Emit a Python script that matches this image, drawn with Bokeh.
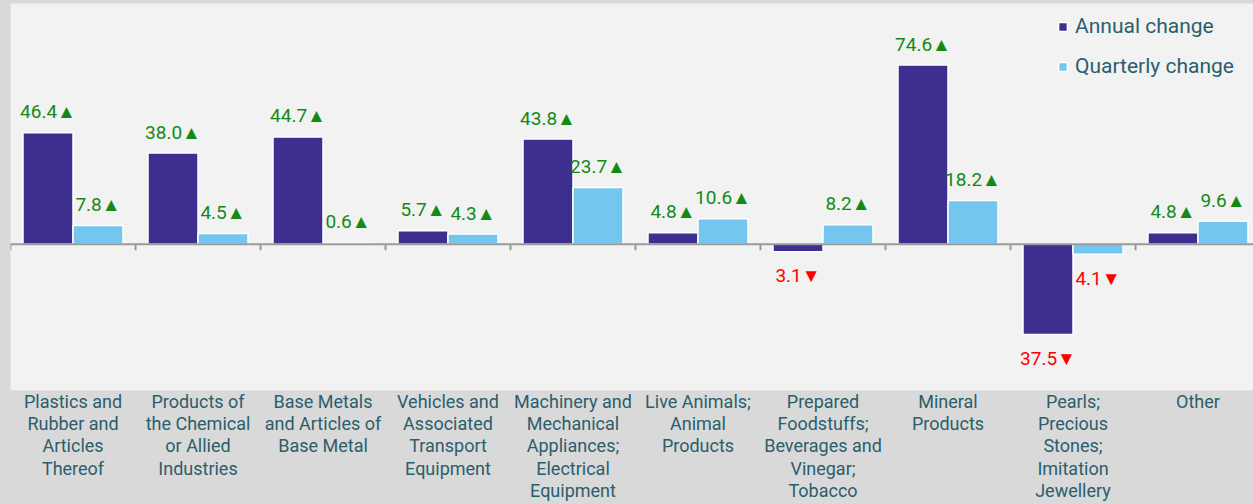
from bokeh.plotting import figure
from bokeh.models import (ColumnDataSource, Range1d, LinearAxis, FixedTicker,
                          Legend, LegendItem, Span)
from bokeh.core.properties import value
from bokeh.embed import file_html
from bokeh.resources import INLINE

categories = [
    "Plastics and\nRubber and\nArticles\nThereof",
    "Products of\nthe Chemical\nor Allied\nIndustries",
    "Base Metals\nand Articles of\nBase Metal",
    "Vehicles and\nAssociated\nTransport\nEquipment",
    "Machinery and\nMechanical\nAppliances;\nElectrical\nEquipment",
    "Live Animals;\nAnimal\nProducts",
    "Prepared\nFoodstuffs;\nBeverages and\nVinegar;\nTobacco",
    "Mineral\nProducts",
    "Pearls;\nPrecious\nStones;\nImitation\nJewellery",
    "Other",
]
annual = [46.4, 38.0, 44.7, 5.7, 43.8, 4.8, -3.1, 74.6, -37.5, 4.8]
quarterly = [7.8, 4.5, 0.6, 4.3, 23.7, 10.6, 8.2, 18.2, -4.1, 9.6]

ANNUAL_COLOR = "#3c2f8f"
QUARTER_COLOR = "#75c6ef"
TEXT_COLOR = "#2b5e6c"
FONT = "Roboto"

n = len(categories)
idx = list(range(n))
centers = [i + 0.5 for i in idx]

Y_MIN, Y_MAX = -60.8, 100.2
FRAME_H = 388
FRAME_W = 1243
CAT_PX = 125                      # the original plot area runs slightly past the right edge
X_MAX = FRAME_W / CAT_PX
TICK_LEN = 6 * (Y_MAX - Y_MIN) / FRAME_H   # 6 px expressed in data units

def label_fields(vals):
    txt, col, off = [], [], []
    for v in vals:
        if v >= 0:
            txt.append(f"{abs(v):.1f}\u25b2"); col.append("#138a13"); off.append(-21)
        else:
            txt.append(f"{abs(v):.1f}\u25bc"); col.append("#ff0000"); off.append(24)
    return txt, col, off

a_txt, a_col, a_off = label_fields(annual)
q_txt, q_col, q_off = label_fields(quarterly)

src = ColumnDataSource(dict(xa=[c - 0.2 for c in centers], xq=[c + 0.2 for c in centers],
                            annual=annual, quarterly=quarterly,
                            a_txt=a_txt, a_col=a_col, a_off=a_off,
                            q_txt=q_txt, q_col=q_col, q_off=q_off))

p = figure(x_range=Range1d(0, X_MAX), y_range=Range1d(Y_MIN, Y_MAX),
           width=1253, height=504, output_backend="svg", toolbar_location=None,
           min_border_left=10, min_border_right=0, min_border_top=3, min_border_bottom=113,
           x_axis_location=None, y_axis_location=None)
p.background_fill_color = "#f2f2f2"
p.border_fill_color = "#d9d9d9"
p.outline_line_color = None
p.grid.visible = False

ra = p.vbar(x="xa", top="annual", width=0.4, source=src,
            fill_color=ANNUAL_COLOR, line_color="white", line_width=1.5)
rq = p.vbar(x="xq", top="quarterly", width=0.4, source=src,
            fill_color=QUARTER_COLOR, line_color="white", line_width=1.5)

# zero line with category-boundary ticks
p.add_layout(Span(location=0, dimension="width", line_color="#9a9a9a", line_width=2))
bounds = idx + [n]
p.segment(x0=bounds, x1=bounds, y0=[0] * len(bounds), y1=[-TICK_LEN] * len(bounds),
          line_color="#9a9a9a", line_width=2)

p.text(x="xa", y="annual", text="a_txt", text_color="a_col",
       y_offset="a_off", source=src, text_align="center", text_baseline="middle",
       text_font_size="19px", text_font=value(FONT))
p.text(x="xq", y="quarterly", text="q_txt", text_color="q_col",
       y_offset="q_off", source=src, text_align="center", text_baseline="middle",
       text_font_size="19px", text_font=value(FONT))

label_axis = LinearAxis(ticker=FixedTicker(ticks=centers),
                        major_label_overrides={c: lab for c, lab in zip(centers, categories)},
                        axis_line_color=None, major_tick_line_color=None,
                        minor_tick_line_color=None,
                        major_tick_in=0, major_tick_out=0,
                        major_label_text_font=FONT, major_label_text_font_size="18px",
                        major_label_text_color=TEXT_COLOR, major_label_standoff=0,
                        major_label_text_line_height=1.07)
p.add_layout(label_axis, "below")

legend = Legend(items=[LegendItem(label="Annual change", renderers=[ra]),
                       LegendItem(label="Quarterly change", renderers=[rq])],
                location="top_right", orientation="vertical")
legend.background_fill_alpha = 0
legend.border_line_color = None
legend.margin = 11
legend.padding = 5
legend.spacing = 16
legend.glyph_width = 11
legend.glyph_height = 11
legend.label_standoff = 7
legend.label_width = 167
legend.label_text_font = FONT
legend.label_text_font_size = "21px"
legend.label_text_color = TEXT_COLOR
p.add_layout(legend)

html = file_html(p, INLINE)
html = html.replace("<head>", "<head><style>body{background:#d9d9d9;}</style>", 1)
open("out.html", "w").write(html)
